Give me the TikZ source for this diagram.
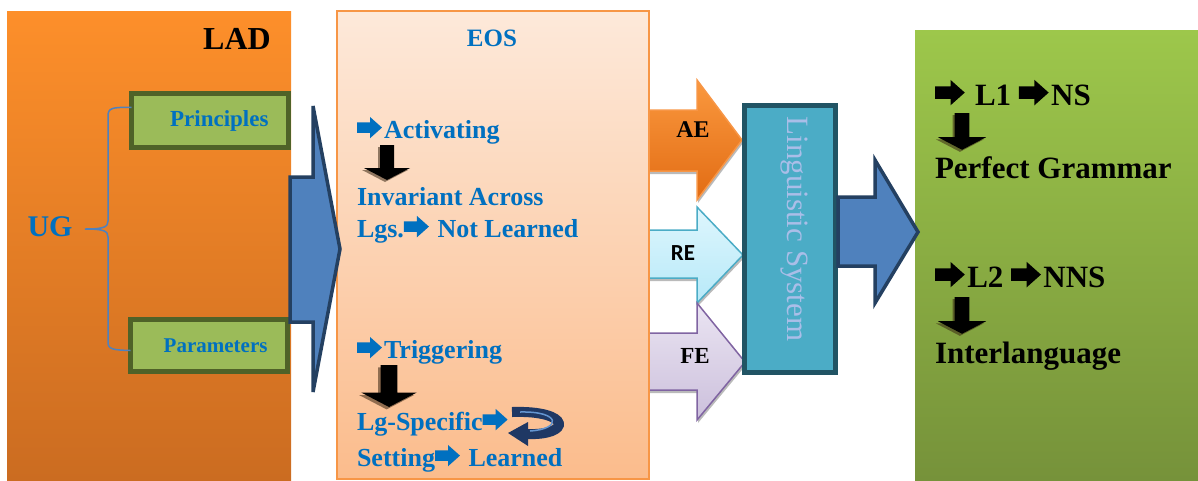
\documentclass[tikz,border=0pt]{standalone}
\usepackage{fontspec}
\setmainfont{Liberation Serif}
\newfontfamily\calibrifont{Carlito}
\usetikzlibrary{shadows}

% colours
\definecolor{ladtop}{RGB}{253,143,42}
\definecolor{ladbottom}{RGB}{203,108,33}
\definecolor{eostop}{RGB}{253,233,218}
\definecolor{eosbottom}{RGB}{251,188,140}
\definecolor{eosline}{RGB}{247,150,70}
\definecolor{textblue}{RGB}{0,112,192}
\definecolor{boxgreen}{RGB}{155,187,89}
\definecolor{boxolive}{RGB}{79,98,40}
\definecolor{bigblue}{RGB}{79,129,189}
\definecolor{bignavy}{RGB}{36,64,97}
\definecolor{lsfill}{RGB}{75,172,198}
\definecolor{lsline}{RGB}{33,84,100}
\definecolor{lstext}{RGB}{170,190,232}
\definecolor{greentop}{RGB}{157,199,75}
\definecolor{greenbottom}{RGB}{118,146,58}
\definecolor{aetop}{RGB}{250,152,62}
\definecolor{aebottom}{RGB}{226,108,20}
\definecolor{retop}{RGB}{222,246,253}
\definecolor{rebottom}{RGB}{183,233,248}
\definecolor{reline}{RGB}{75,172,198}
\definecolor{fetop}{RGB}{234,228,242}
\definecolor{febottom}{RGB}{204,192,220}
\definecolor{feline}{RGB}{128,100,162}
\definecolor{turnnavy}{RGB}{31,56,100}
\definecolor{turnstripe}{RGB}{100,150,210}

% heavy arrow set inside the text lines
\newcommand{\harr}{\tikz[x=1em, y=1em, baseline=0pt]
  \fill (0,0.2) -- (0.5,0.2) -- (0.5,-0.01) -- (0.96,0.4) -- (0.5,0.81) -- (0.5,0.6) -- (0,0.6) -- cycle;\kern0.08em}

\tikzset{
  every node/.style={inner sep=0pt, outer sep=0pt},
  bluetext/.style={text=textblue, font=\bfseries\fontsize{26}{30}\selectfont, anchor=base west},
  greentext/.style={font=\bfseries\fontsize{31}{36}\selectfont, anchor=base west},
  ugbox/.style={draw=boxolive, line width=5pt, fill=boxgreen, text=textblue,
    text width=117pt, inner xsep=20pt, align=right, minimum height=54pt},
  bigarrow/.style={fill=bigblue, draw=bignavy, line width=3.5pt, line join=miter},
  inarrow/.style={line width=1.5pt, line join=miter,
    drop shadow={shadow xshift=1pt, shadow yshift=-3pt, fill=black!45, opacity=.6}},
  downarr/.pic={
    \fill[black!70!brown, opacity=.55] (-9,2) -- (5,2) -- (5,25) -- (21,25) -- (-2,37) -- (-25,25) -- (-9,25) -- cycle;
    \fill[black] (-7,0) -- (7,0) -- (7,23) -- (23,23) -- (0,35) -- (-23,23) -- (-7,23) -- cycle;
  },
}

\begin{document}
\begin{tikzpicture}[x=1pt, y=-1pt]
\useasboundingbox (0,0) rectangle (1198,480);

% LAD panel
\fill[top color=ladtop, bottom color=ladbottom] (7,11) rectangle (291,480);
\node[font=\bfseries\fontsize{32}{36}\selectfont] (lad) at (237,39) {LAD};
\node[ugbox, font=\bfseries\fontsize{23}{26}\selectfont] (principles) at (210,120.5) {Principles};
\node[ugbox, minimum height=52pt, font=\bfseries\fontsize{21}{26}\selectfont] (parameters) at (209,345.5) {Parameters};
\node[text=textblue, font=\bfseries\fontsize{30}{34}\selectfont] (ug) at (50,227) {UG};

% brace from UG to both boxes
\coordinate (bracetip) at (85,229);
\draw[bigblue, line width=1.5pt] ([yshift=13pt]principles.west) .. controls (112,107) and (108,108) .. (108,116)
  -- (108,221) .. controls (108,227) and (104,229) .. (bracetip)
  .. controls (104,229) and (108,231) .. (108,237)
  -- (108,342) .. controls (108,349) and (112,350) .. ([yshift=-5pt]parameters.west);

% input arrows, behind the EOS panel
\draw[inarrow, draw=eosline, top color=aetop, bottom color=aebottom]
  (640,110) -- (697,110) -- (697,80) -- (742,140) -- (697,200) -- (697,171) -- (640,171) -- cycle;
\draw[inarrow, draw=reline, top color=retop, bottom color=rebottom]
  (640,230) -- (697,230) -- (697,207) -- (743,255) -- (697,303) -- (697,278) -- (640,278) -- cycle;
\draw[inarrow, draw=feline, top color=fetop, bottom color=febottom]
  (640,333) -- (697,333) -- (697,303) -- (745,362) -- (697,420) -- (697,390) -- (640,390) -- cycle;
\node[font=\bfseries\fontsize{24}{28}\selectfont] (ae) at (693,130) {AE};
\node[font=\calibrifont\bfseries\fontsize{23}{28}\selectfont] (re) at (683,253) {RE};
\node[font=\bfseries\fontsize{23}{28}\selectfont] (fe) at (695,356) {FE};

% EOS panel
\draw[draw=eosline, line width=2pt, top color=eostop, bottom color=eosbottom] (337,11) rectangle (649,479);
\node[text=textblue, font=\bfseries\fontsize{25}{30}\selectfont] (eos) at (492,38) {EOS};
\node[bluetext] (act) at (357,138) {\harr Activating};
\pic at (387,145) {downarr};
\node[bluetext] (inv) at (357,205) {Invariant Across};
\node[bluetext] (notlearned) at (357,237) {Lgs.\harr{} Not Learned};
\node[bluetext] (trig) at (357,358) {\harr Triggering};
\pic[scale=1.2] at (389,365) {downarr};
\node[bluetext] (lgspec) at (357,430) {Lg-Specific\harr};
\node[bluetext] (learned) at (357,466) {Setting\harr{} Learned};

% turning arrow after Lg-Specific
\draw[turnnavy, line width=10pt] (512,412) .. controls (572,410) and (572,436) .. (526,434);
\fill[turnnavy] (528,422) -- (508,433) -- (528,446) -- cycle;
\draw[turnstripe, line width=1.5pt] (520,412) .. controls (561,411) and (562,429) .. (530,431);

% big arrow LAD -> EOS
\draw[bigarrow] (290,177) -- (313,177) -- (313,106) -- (340,249) -- (313,392) -- (313,322) -- (290,322) -- cycle;

% green panel
\fill[top color=greentop, bottom color=greenbottom] (915,30) rectangle (1198,480);
\node[greentext] (lone) at (935,105) {\harr{} L1 \harr NS};
\pic[scale=1.05] at (962,113) {downarr};
\node[greentext] (perfect) at (935,178) {Perfect Grammar};
\node[greentext] (ltwo) at (935,287) {\harr L2 \harr NNS};
\pic[scale=1.05] at (962,297) {downarr};
\node[greentext] (inter) at (935,363) {Interlanguage};

% linguistic system
\draw[draw=lsline, line width=5pt, fill=lsfill] (744.5,105.5) rectangle (835.5,372.5);
\node[rotate=-90, text=lstext, font=\fontsize{31}{34}\selectfont] (ls) at (794,229) {Linguistic System};

% big arrow out of the system
\draw[bigarrow] (838,197) -- (875,197) -- (875,160) -- (918,232) -- (875,303) -- (875,266) -- (838,266) -- cycle;

\end{tikzpicture}
\end{document}
